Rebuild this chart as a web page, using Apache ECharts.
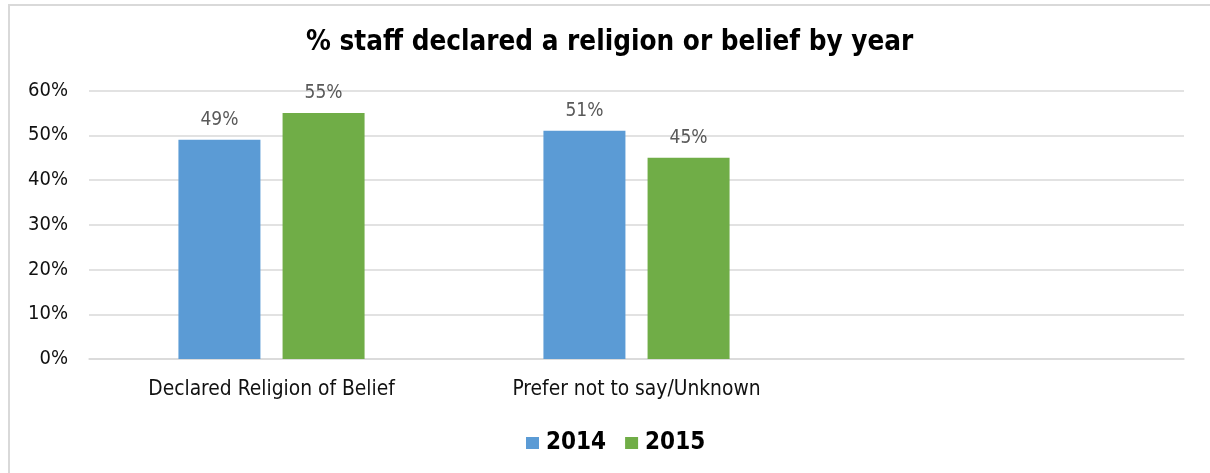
<!DOCTYPE html>
<html>
<head>
<meta charset="utf-8">
<script src="https://cdn.jsdelivr.net/npm/echarts@6/dist/echarts.min.js"></script>
<style>
  html, body { margin: 0; padding: 0; background: #fff; }
  #chart { position: absolute; left: 0; top: 0; width: 1210px; height: 473px; }
  #frame { position: absolute; left: 8px; top: 4px; width: 1300px; height: 600px;
           border-left: 2px solid #d9d9d9; border-top: 2px solid #d9d9d9; pointer-events: none; }
</style>
</head>
<body>
<div id="chart"></div>
<div id="frame"></div>
<script>
// Share of staff declaring a religion or belief, by year (percent)
const categories = ['Declared Religion of Belief', 'Prefer not to say/Unknown', ''];
const years = ['2014', '2015'];
const values2014 = [49, 51, null];
const values2015 = [55, 45, null];
const yTicks = { min: 0, max: 60, interval: 10 };

const FONT = '"DejaVu Sans Condensed", "DejaVu Sans", sans-serif';
const colors = ['#5b9bd5', '#70ad47'];

const chart = echarts.init(document.getElementById('chart'), null, { renderer: 'canvas' });

const barSeries = [values2014, values2015].map((vals, i) => ({
  name: years[i],
  type: 'bar',
  data: vals,
  barWidth: 82,
  barGap: '27%',
  itemStyle: { color: colors[i] },
  label: {
    show: true,
    position: 'top',
    distance: 10,
    formatter: p => p.value + '%',
    color: '#595959',
    fontFamily: FONT,
    fontSize: 19
  }
}));

chart.setOption({
  animation: false,
  backgroundColor: 'transparent',
  title: {
    text: '% staff declared a religion or belief by year',
    left: 301,
    top: 24,
    textStyle: { fontFamily: FONT, fontWeight: 'bold', fontSize: 27.6, color: '#000' }
  },
  legend: {
    data: years,
    left: 526,
    top: 431,
    padding: 0,
    icon: 'rect',
    itemWidth: 13,
    itemHeight: 12,
    itemGap: 19,
    textStyle: { fontFamily: FONT, fontWeight: 'bold', fontSize: 24, color: '#000', padding: [0, 0, 0, 2] }
  },
  grid: { left: 89, right: 26, top: 90.5, bottom: 114, containLabel: false },
  xAxis: {
    type: 'category',
    data: categories,
    axisLine: { lineStyle: { color: '#d9d9d9', width: 1.5 } },
    axisTick: { show: false },
    axisLabel: { color: '#111', fontFamily: FONT, fontSize: 20.8, margin: 20, interval: 0 }
  },
  yAxis: {
    type: 'value',
    min: yTicks.min,
    max: yTicks.max,
    interval: yTicks.interval,
    axisLine: { show: false },
    axisTick: { show: false },
    axisLabel: { formatter: '{value}%', color: '#111', fontFamily: FONT, fontSize: 20, margin: 21 },
    splitLine: { lineStyle: { color: '#d9d9d9', width: 1.5 } }
  },
  series: barSeries
});
</script>
</body>
</html>
